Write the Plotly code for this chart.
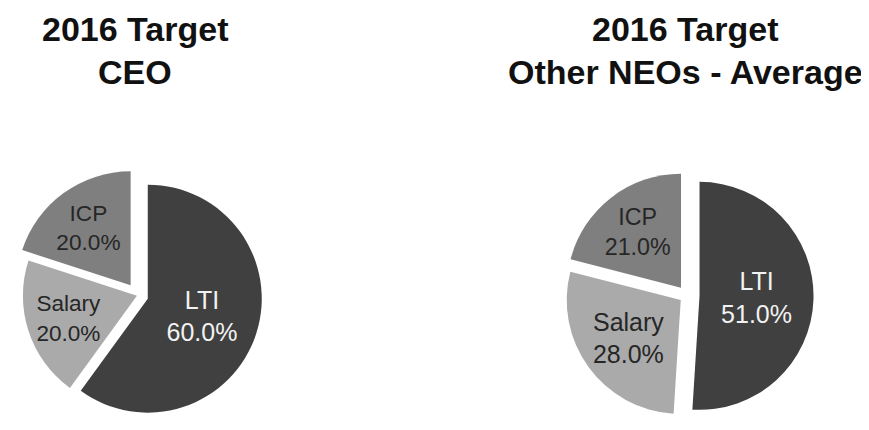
import plotly.graph_objects as go

# ---- data ----
labels = ["LTI", "Salary", "ICP"]
ceo_values = [60.0, 20.0, 20.0]
neo_values = [51.0, 28.0, 21.0]
ceo_title = ["2016 Target", "CEO"]
neo_title = ["2016 Target", "Other NEOs - Average"]

# ---- style ----
VIEW_W, VIEW_H = 869, 430
OX, OY = 8, 8              # page body margin offset
W, H = VIEW_W - OX, VIEW_H - 2 * OY
slice_colors = ["#404040", "#aaaaaa", "#7f7f7f"]
text_colors = ["#f2f2f2", "#262626", "#262626"]
ceo_pull = [0.09, 0.01, 0.11]
neo_pull = [0.11, 0.068, 0.086]
FONT = "Liberation Sans, Arial, sans-serif"


def pie_domain(px, py, r, pull):
    cx, cy = px - OX, py - OY
    hy = r * (1 + max(pull))
    cy = min(cy, H - hy)
    hx = min(cx, W - cx, hy * 1.5)
    return dict(x=[max(0, (cx - hx) / W), min(1, (cx + hx) / W)],
                y=[max(0, 1 - (cy + hy) / H), min(1, 1 - (cy - hy) / H)])


fig = go.Figure()
for vals, pull, px in [(ceo_values, ceo_pull, 138), (neo_values, neo_pull, 687)]:
    fig.add_trace(go.Pie(
        labels=labels,
        values=vals,
        sort=False,
        direction="clockwise",
        rotation=0,
        pull=pull,
        marker=dict(colors=slice_colors, line=dict(width=0)),
        texttemplate="%{label}<br>%{percent:.1%}",
        textposition="inside",
        insidetextorientation="horizontal",
        textfont=dict(family=FONT, size=25, color=text_colors),
        hoverinfo="label+percent",
        domain=pie_domain(px, 306, 114, pull),
    ))

# title lines: box tops (page px)
line_tops = [8, 51]
for lines, px in [(ceo_title, 135), (neo_title, 685)]:
    for txt, top in zip(lines, line_tops):
        fig.add_annotation(
            text="<b>" + txt + "</b>",
            x=(px - OX) / W, y=1 - (top - OY) / H, xref="paper", yref="paper",
            xanchor="center", yanchor="top", showarrow=False,
            font=dict(family=FONT, size=34, color="#111111"),
        )

fig.update_layout(
    width=W, height=H,
    margin=dict(l=0, r=0, t=0, b=0),
    paper_bgcolor="white", plot_bgcolor="white",
    showlegend=False,
)

fig.write_html("out.html")
